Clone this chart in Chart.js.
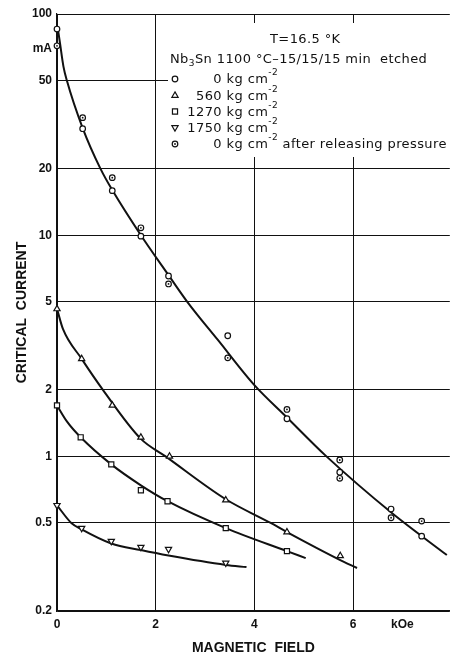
<!DOCTYPE html>
<html>
<head>
<meta charset="utf-8">
<title>Critical current vs magnetic field</title>
<script src="https://cdn.jsdelivr.net/npm/chart.js@4"></script>
<style>
  html, body { margin: 0; padding: 0; background: #fff; overflow: hidden; }
  canvas { display: block; }
</style>
</head>
<body>
<canvas id="cc" width="455" height="657"></canvas>
<script>
// measured points (field in kOe, current in mA)
const field0 = [0, 0.52, 1.12, 1.7, 2.26, 3.46, 4.66, 5.73, 6.77, 7.39];
const current0 = [85.5, 30.3, 15.9, 9.9, 6.54, 3.51, 1.48, 0.848, 0.578, 0.436];

const field560 = [0, 0.5, 1.12, 1.7, 2.28, 3.42, 4.66, 5.74];
const current560 = [4.64, 2.76, 1.70, 1.22, 1.0, 0.634, 0.455, 0.355];

const field1270 = [0, 0.48, 1.1, 1.7, 2.24, 3.42, 4.66];
const current1270 = [1.70, 1.22, 0.92, 0.703, 0.627, 0.474, 0.373];

const field1750 = [0, 0.5, 1.1, 1.7, 2.26, 3.42];
const current1750 = [0.601, 0.474, 0.414, 0.389, 0.381, 0.33];

const fieldRel = [0, 0.52, 1.12, 1.7, 2.26, 3.46, 4.66, 5.73, 5.73, 6.77, 7.39];
const currentRel = [71.8, 34, 18.2, 10.8, 6.02, 2.79, 1.63, 0.963, 0.796, 0.528, 0.51];

// hand drawn fit curves
const curve0X = [0.02, 0.06, 0.13, 0.2, 0.52, 0.88, 1.12, 1.7, 2.26, 2.64, 3.26, 4.0, 4.66, 5.46, 6.78, 7.9];
const curve0Y = [85, 74, 58, 50, 30.5, 20, 16, 10, 6.6, 5, 3.36, 2.1, 1.5, 1.0, 0.556, 0.358];

const curve560X = [0, 0.12, 0.5, 0.93, 1.7, 2.2, 3.42, 4.33, 4.66, 5.74, 6.08];
const curve560Y = [4.65, 3.77, 2.76, 2.0, 1.2, 1.0, 0.64, 0.5, 0.455, 0.34, 0.313];

const curve1270X = [0, 0.2, 0.48, 1.1, 1.7, 2.24, 3.42, 4.66, 5.04];
const curve1270Y = [1.70, 1.44, 1.22, 0.92, 0.74, 0.627, 0.474, 0.373, 0.347];

const curve1750X = [0, 0.29, 0.5, 1.1, 1.7, 2.26, 3.42, 3.84];
const curve1750Y = [0.601, 0.5, 0.468, 0.404, 0.377, 0.356, 0.323, 0.316];

const xTickValues = [0, 2, 4, 6, 7];
const xTickLabels = ['0', '2', '4', '6', 'kOe'];
const yTickValues = [0.2, 0.5, 1, 2, 5, 10, 20, 50, 70, 100];
const yTickLabels = ['0.2', '0.5', '1', '2', '5', '10', '20', '50', 'mA', '100'];

const legendRows = [
    { num: '0', tail: '' },
    { num: '560', tail: '' },
    { num: '1270', tail: '' },
    { num: '1750', tail: '' },
    { num: '0', tail: ' after releasing pressure' }
];

const INK = '#111';
const TICK_FONT = "'Liberation Sans', Arial, sans-serif";
const NOTE_FONT = "'DejaVu Sans', sans-serif";

function pairs(xs, ys) {
    return xs.map((x, i) => ({ x: x, y: ys[i] }));
}

function pointSet(xs, ys, style, radius, rotation) {
    return {
        data: pairs(xs, ys),
        showLine: false,
        pointStyle: style,
        pointRadius: radius,
        pointRotation: rotation || 0,
        pointBackgroundColor: '#fff',
        pointBorderColor: INK,
        pointBorderWidth: 1.2,
        clip: false,
        order: 1
    };
}

// small black dot used in the centre of the "after releasing" circles
function centreDots(xs, ys) {
    return {
        data: pairs(xs, ys),
        showLine: false,
        pointStyle: 'circle',
        pointRadius: 0.9,
        pointBackgroundColor: INK,
        pointBorderWidth: 0,
        clip: false,
        order: 0
    };
}

function curveSet(xs, ys) {
    return {
        data: pairs(xs, ys),
        showLine: true,
        borderColor: INK,
        borderWidth: 2,
        pointRadius: 0,
        cubicInterpolationMode: 'monotone',
        clip: false,
        order: 2
    };
}

function drawSymbol(ctx, kind, x, y) {
    ctx.save();
    ctx.lineWidth = 1.2;
    ctx.strokeStyle = INK;
    ctx.fillStyle = '#fff';
    ctx.beginPath();
    if (kind === 'circle' || kind === 'dot') {
        ctx.arc(x, y, 2.8, 0, Math.PI * 2);
    } else if (kind === 'rect') {
        const s = 3.6 * Math.SQRT1_2;
        ctx.rect(x - s, y - s, 2 * s, 2 * s);
    } else {
        const r = 3.6;
        const sgn = kind === 'up' ? 1 : -1;
        for (let k = 0; k < 3; k++) {
            const a = k * 2 * Math.PI / 3;
            const px = x + Math.sin(a) * r * sgn;
            const py = y - Math.cos(a) * r * sgn;
            if (k === 0) ctx.moveTo(px, py); else ctx.lineTo(px, py);
        }
        ctx.closePath();
    }
    ctx.fill();
    ctx.stroke();
    if (kind === 'dot') {
        ctx.beginPath();
        ctx.arc(x, y, 0.9, 0, Math.PI * 2);
        ctx.fillStyle = INK;
        ctx.fill();
    }
    ctx.restore();
}

// text made of pieces: [text, size, dy]
function drawRuns(ctx, x, y, runs) {
    runs.forEach(r => {
        ctx.font = r[1] + 'px ' + NOTE_FONT;
        ctx.fillText(r[0], x, y + r[2]);
        x += ctx.measureText(r[0]).width;
    });
    return x;
}

const notePlugin = {
    id: 'noteBox',
    beforeDatasetsDraw(chart) {
        const ctx = chart.ctx;
        ctx.save();
        ctx.fillStyle = '#fff';
        ctx.fillRect(168, 23, 283, 134);
        ctx.fillStyle = INK;
        ctx.textBaseline = 'alphabetic';
        ctx.textAlign = 'left';
        ctx.letterSpacing = '0.4px';

        drawRuns(ctx, 270, 43, [['T=16.5 °K', 13, 0]]);
        drawRuns(ctx, 170, 63, [
            ['Nb', 13, 0], ['3', 9, 3], ['Sn 1100 °C\u201315/15/15 min  etched', 13, 0]
        ]);

        const symbols = ['circle', 'up', 'rect', 'down', 'dot'];
        const baselines = [83, 99.5, 115.5, 131.5, 148];
        legendRows.forEach((row, i) => {
            const y = baselines[i];
            drawSymbol(ctx, symbols[i], 175, y - 4);
            ctx.font = '13px ' + NOTE_FONT;
            const w = ctx.measureText(row.num).width;
            drawRuns(ctx, 222 - w, y, [
                [row.num + ' kg cm', 13, 0], ['-2', 9, -8], [row.tail, 13, 0]
            ]);
        });
        ctx.restore();
    }
};

function initCurrentChart() {
    const canvas = document.getElementById('cc');
    if (!canvas || typeof Chart === 'undefined') {
        console.error('Chart.js or canvas missing');
        return;
    }

    const data = {
        datasets: [
            pointSet(field0, current0, 'circle', 2.8),
            pointSet(field560, current560, 'triangle', 3.6),
            pointSet(field1270, current1270, 'rect', 3.6),
            pointSet(field1750, current1750, 'triangle', 3.6, 180),
            pointSet(fieldRel, currentRel, 'circle', 2.8),
            centreDots(fieldRel, currentRel),
            curveSet(curve0X, curve0Y),
            curveSet(curve560X, curve560Y),
            curveSet(curve1270X, curve1270Y),
            curveSet(curve1750X, curve1750Y)
        ]
    };

    const config = {
        type: 'scatter',
        data: data,
        options: {
            responsive: false,
            animation: false,
            events: [],
            layout: { padding: { top: 14, right: 0, bottom: 0, left: 0 } },
            plugins: {
                legend: { display: false },
                tooltip: { enabled: false }
            },
            scales: {
                x: {
                    type: 'linear',
                    min: 0,
                    max: 7.96,
                    afterFit: s => { s.height = 46; },
                    afterBuildTicks: s => { s.ticks = xTickValues.map(v => ({ value: v })); },
                    border: { display: true, color: INK, width: 1.2 },
                    grid: {
                        drawTicks: false,
                        lineWidth: 1,
                        color: c => (c.tick && c.tick.value === 7) ? 'rgba(0,0,0,0)' : INK
                    },
                    ticks: {
                        autoSkip: false,
                        maxRotation: 0,
                        padding: 6,
                        color: INK,
                        font: { family: TICK_FONT, size: 12, weight: 'bold' },
                        callback: (v, i) => xTickLabels[i]
                    },
                    title: {
                        display: true,
                        text: 'MAGNETIC  FIELD',
                        color: INK,
                        font: { family: TICK_FONT, size: 14, weight: 'bold' },
                        padding: { top: 0, bottom: 0 }
                    }
                },
                y: {
                    type: 'logarithmic',
                    min: 0.2,
                    max: 100,
                    afterFit: s => { s.width = 57; },
                    afterBuildTicks: s => { s.ticks = yTickValues.map(v => ({ value: v })); },
                    border: { display: true, color: INK, width: 1.2 },
                    grid: {
                        drawTicks: false,
                        lineWidth: 1,
                        color: c => (c.tick && c.tick.value === 70) ? 'rgba(0,0,0,0)' : INK
                    },
                    ticks: {
                        autoSkip: false,
                        padding: 5,
                        color: INK,
                        font: { family: TICK_FONT, size: 12, weight: 'bold' },
                        callback: (v, i) => yTickLabels[i]
                    },
                    title: {
                        display: true,
                        text: 'CRITICAL  CURRENT',
                        color: INK,
                        font: { family: TICK_FONT, size: 14, weight: 'bold' },
                        padding: { top: 14, bottom: 0 }
                    }
                }
            }
        },
        plugins: [notePlugin]
    };

    try {
        window.currentChart = new Chart(canvas, config);
    } catch (error) {
        console.error('Error creating chart:', error);
    }
}

initCurrentChart();
</script>
</body>
</html>
